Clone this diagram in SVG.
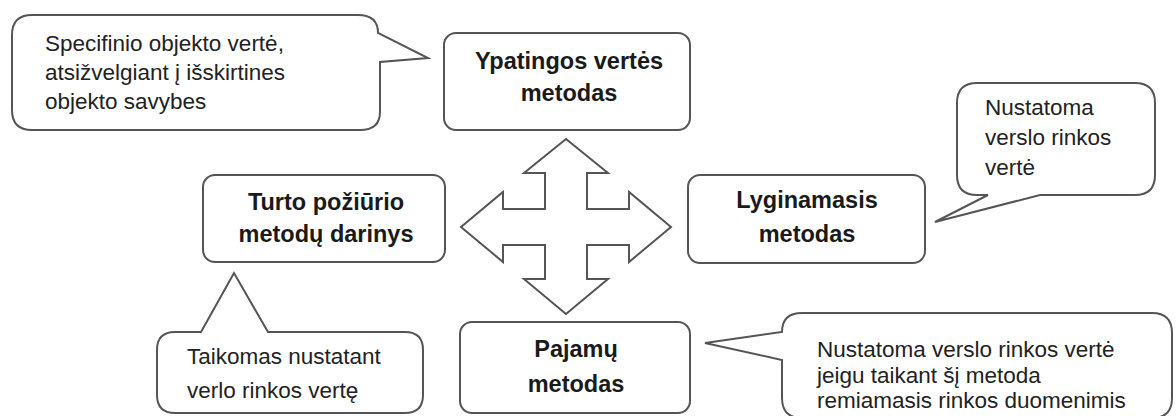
<svg xmlns="http://www.w3.org/2000/svg" width="1176" height="416" viewBox="0 0 1176 416">
<style>
.shape{fill:#ffffff;stroke:#555555;stroke-width:2;stroke-linejoin:miter}
.box{fill:#ffffff;stroke:#555555;stroke-width:2}
.t{font-family:"Liberation Sans",Arial,sans-serif;font-size:22.5px;fill:#222222}
.b{font-family:"Liberation Sans",Arial,sans-serif;font-size:23.5px;font-weight:bold;fill:#1a1a1a;text-anchor:middle}
</style>
<rect x="0" y="0" width="1176" height="416" fill="#ffffff"/>
<g id="connectors">
<path class="shape" d="M566,139 L608,173 L587,173 L587,209 L629,209 L629,192 L671,227 L629,262 L629,245 L587,245 L587,279 L608,279 L566,314 L524,279 L545,279 L545,245 L503,245 L503,262 L461,227 L503,192 L503,209 L545,209 L545,173 L524,173 Z"/>
</g>
<g id="callout-specifinio">
<path class="shape" d="M32,15 H358 Q378,15 378,33 L428,58 L380,62 V112 Q380,130 360,130 H32 Q12,130 12,110 V35 Q12,15 32,15 Z"/>
<text class="t" x="45" y="51">Specifinio objekto vertė,</text>
<text class="t" x="45" y="80">atsižvelgiant į išskirtines</text>
<text class="t" x="45" y="109">objekto savybes</text>
</g>
<g id="node-ypatingos">
<rect class="box" x="444" y="33" width="246" height="97" rx="12"/>
<text class="b" x="569" y="69">Ypatingos vertės</text>
<text class="b" x="569" y="101">metodas</text>
</g>
<g id="node-turto">
<rect class="box" x="203" y="175" width="242" height="87" rx="12"/>
<text class="b" x="326" y="210">Turto požiūrio</text>
<text class="b" x="326" y="242">metodų darinys</text>
</g>
<g id="node-lyginamasis">
<rect class="box" x="688" y="175" width="237" height="88" rx="12"/>
<text class="b" x="807" y="208">Lyginamasis</text>
<text class="b" x="807" y="242">metodas</text>
</g>
<g id="callout-nustatoma">
<path class="shape" d="M977,83 H1135 Q1155,83 1155,103 V175 Q1155,195 1135,195 H1040 L935,222 L988,195 H977 Q957,195 957,175 V103 Q957,83 977,83 Z"/>
<text class="t" x="985" y="115">Nustatoma</text>
<text class="t" x="985" y="145">verslo rinkos</text>
<text class="t" x="985" y="175">vertė</text>
</g>
<g id="callout-taikomas">
<path class="shape" d="M175,332 H201 L234,273 L268,332 H405 Q423,332 423,350 V395 Q423,413 405,413 H175 Q157,413 157,395 V350 Q157,332 175,332 Z"/>
<text class="t" x="187" y="364">Taikomas nustatant</text>
<text class="t" x="187" y="398">verlo rinkos vertę</text>
</g>
<g id="node-pajamu">
<rect class="box" x="460" y="322" width="230" height="91" rx="12"/>
<text class="b" x="576" y="357">Pajamų</text>
<text class="b" x="576" y="392">metodas</text>
</g>
<g id="callout-rinkos">
<path class="shape" d="M802,313 H1152 Q1172,313 1172,333 V398 Q1172,418 1152,418 H802 Q782,418 782,398 V360 L705,343 L782,332 Q782,313 802,313 Z"/>
<text class="t" x="817" y="357">Nustatoma verslo rinkos vertė</text>
<text class="t" x="817" y="383">jeigu taikant šį metoda</text>
<text class="t" x="817" y="408">remiamasis rinkos duomenimis</text>
</g>
</svg>
